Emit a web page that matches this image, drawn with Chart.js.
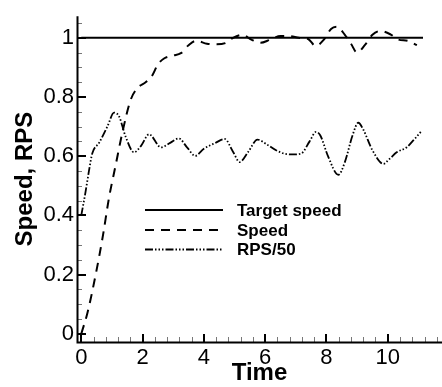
<!DOCTYPE html>
<html>
<head>
<meta charset="utf-8">
<script src="https://cdn.jsdelivr.net/npm/chart.js@4.4.0/dist/chart.umd.min.js"></script>
<style>
  body { margin: 0; background: #fff; overflow: hidden; }
  canvas { display: block; }
</style>
</head>
<body>
<canvas id="speedChart" width="442" height="387"></canvas>
<script>
// data
const targetT = [0, 11.15]
const targetV = [1, 1]

const speedT = [0, 0.2, 0.47, 0.71, 0.9, 1.12, 1.34, 1.61, 1.83, 2.1, 2.3, 2.5, 2.7, 3.0, 3.25, 3.5, 3.75,
    4.1, 4.4, 4.7, 4.95, 5.25, 5.55, 5.85, 6.15, 6.5, 6.8, 7.1, 7.4, 7.65, 7.9, 8.15, 8.35, 8.6, 8.8,
    9.0, 9.25, 9.5, 9.75, 10.1, 10.35, 10.65, 10.95]
const speedV = [0, 0.07, 0.2, 0.334, 0.457, 0.569, 0.68, 0.79, 0.83, 0.85, 0.87, 0.91, 0.93, 0.94, 0.948, 0.975, 0.99,
    0.98, 0.978, 0.982, 1.0, 1.01, 0.994, 0.983, 0.993, 1.006, 1.006, 1.0, 0.996, 0.972, 0.992, 1.03, 1.037, 1.01, 0.98,
    0.95, 0.975, 1.01, 1.023, 1.011, 0.994, 0.99, 0.975]

const rpsT = [0, 0.14, 0.25, 0.36, 0.58, 0.85, 1.07, 1.23, 1.45, 1.72, 1.95, 2.21, 2.6, 2.9, 3.18, 3.45, 3.72,
    4.0, 4.36, 4.68, 4.95, 5.17, 5.45, 5.75, 6.05, 6.37, 6.7, 6.95, 7.19, 7.45, 7.66, 7.8, 8.05, 8.39, 8.6,
    8.85, 9.04, 9.2, 9.5, 9.86, 10.05, 10.29, 10.62, 10.85, 11.11]
const rpsV = [0.40, 0.48, 0.55, 0.61, 0.645, 0.70, 0.747, 0.735, 0.665, 0.613, 0.635, 0.674, 0.63, 0.645, 0.66, 0.63, 0.601,
    0.625, 0.644, 0.658, 0.615, 0.58, 0.615, 0.656, 0.64, 0.619, 0.607, 0.606, 0.61, 0.65, 0.682, 0.67, 0.6, 0.537, 0.58,
    0.67, 0.713, 0.69, 0.62, 0.574, 0.59, 0.613, 0.63, 0.655, 0.686]

const xTicks = [0, 2, 4, 6, 8, 10]
const yTicks = [0, 0.2, 0.4, 0.6, 0.8, 1]

const toPoints = (t, v) => t.map((x, i) => ({ x: x, y: v[i] }))

const tickFont = { family: "'Liberation Sans', Arial, sans-serif", size: 22 }
const titleFont = { family: "'Liberation Sans', Arial, sans-serif", size: 24, weight: 'bold' }

// inward ticks, axis lines and the legend inside the plot
const framePlugin = {
    id: 'frame',
    afterDraw(chart) {
        const ctx = chart.ctx
        const area = chart.chartArea
        const xs = chart.scales.x
        const ys = chart.scales.y
        ctx.save()

        // minor ticks
        ctx.lineWidth = 1
        ctx.strokeStyle = '#777'
        for (let v = 0.4; v < xs.max; v += 0.4) {
            if (Math.abs(v / 2 - Math.round(v / 2)) < 0.01) continue
            const px = Math.round(xs.getPixelForValue(v)) + 0.5
            ctx.beginPath(); ctx.moveTo(px, area.bottom); ctx.lineTo(px, area.bottom - 5); ctx.stroke()
        }
        for (let v = 0.05; v < ys.max; v += 0.05) {
            if (Math.abs(v / 0.2 - Math.round(v / 0.2)) < 0.01) continue
            const py = Math.round(ys.getPixelForValue(v)) + 0.5
            ctx.beginPath(); ctx.moveTo(area.left, py); ctx.lineTo(area.left + 5, py); ctx.stroke()
        }

        // major ticks
        ctx.strokeStyle = '#000'
        ctx.lineWidth = 2
        xTicks.forEach(v => {
            const px = Math.round(xs.getPixelForValue(v))
            ctx.beginPath(); ctx.moveTo(px, area.bottom); ctx.lineTo(px, area.bottom - 8); ctx.stroke()
        })
        yTicks.forEach(v => {
            const py = Math.round(ys.getPixelForValue(v))
            ctx.beginPath(); ctx.moveTo(area.left, py); ctx.lineTo(area.left + 9, py); ctx.stroke()
        })

        // axis lines
        ctx.lineWidth = 2
        ctx.beginPath()
        ctx.moveTo(area.left + 0.5, area.top)
        ctx.lineTo(area.left + 0.5, area.bottom + 0.5)
        ctx.lineTo(area.right, area.bottom + 0.5)
        ctx.stroke()

        // legend
        const rows = [210, 230, 249.5]
        ctx.font = "bold 17px 'Liberation Sans', Arial, sans-serif"
        ctx.textBaseline = 'middle'
        ctx.fillStyle = '#000'
        chart.data.datasets.forEach((ds, i) => {
            ctx.lineWidth = ds.borderWidth
            ctx.setLineDash(ds.borderDash || [])
            ctx.beginPath()
            ctx.moveTo(145, rows[i])
            ctx.lineTo(223, rows[i])
            ctx.stroke()
            ctx.setLineDash([])
            ctx.fillText(ds.label, 237, rows[i] + 1)
        })
        ctx.restore()
    }
}

new Chart(document.getElementById('speedChart').getContext('2d'), {
    type: 'line',
    data: {
        datasets: [
            {
                label: 'Target speed',
                data: toPoints(targetT, targetV),
                borderColor: '#000',
                borderWidth: 2,
                pointRadius: 0
            },
            {
                label: 'Speed',
                data: toPoints(speedT, speedV),
                borderColor: '#000',
                borderWidth: 2,
                borderDash: [9, 7],
                pointRadius: 0,
                cubicInterpolationMode: 'monotone'
            },
            {
                label: 'RPS/50',
                data: toPoints(rpsT, rpsV),
                borderColor: '#000',
                borderWidth: 1.8,
                borderDash: [8, 2, 1.5, 2, 1.5, 2, 1.5, 2],
                pointRadius: 0,
                cubicInterpolationMode: 'monotone'
            }
        ]
    },
    options: {
        responsive: false,
        animation: false,
        events: [],
        layout: { padding: { top: 12, right: 0, bottom: 0, left: 0 } },
        plugins: { legend: { display: false }, tooltip: { enabled: false } },
        scales: {
            x: {
                type: 'linear',
                min: -0.14,
                max: 11.77,
                afterBuildTicks: scale => { scale.ticks = xTicks.map(v => ({ value: v })) },
                afterFit: scale => { scale.height = 45 },
                grid: { display: false, drawTicks: false },
                border: { display: false },
                ticks: { color: '#000', font: tickFont, padding: 3, maxRotation: 0, autoSkip: false },
                title: { display: true, text: 'Time', color: '#000', font: { ...titleFont, lineHeight: 1.1 }, padding: 0 }
            },
            y: {
                type: 'linear',
                min: -0.028,
                max: 1.073,
                afterBuildTicks: scale => { scale.ticks = yTicks.map(v => ({ value: v })) },
                afterFit: scale => { scale.width = 77 },
                grid: { display: false, drawTicks: false },
                border: { display: false },
                ticks: { color: '#000', font: tickFont, padding: 3, autoSkip: false, callback: v => String(v) },
                title: { display: true, text: 'Speed, RPS', color: '#000', font: { ...titleFont, lineHeight: 1.2 }, padding: { top: 11, bottom: 0 } }
            }
        }
    },
    plugins: [framePlugin]
})
</script>
</body>
</html>
